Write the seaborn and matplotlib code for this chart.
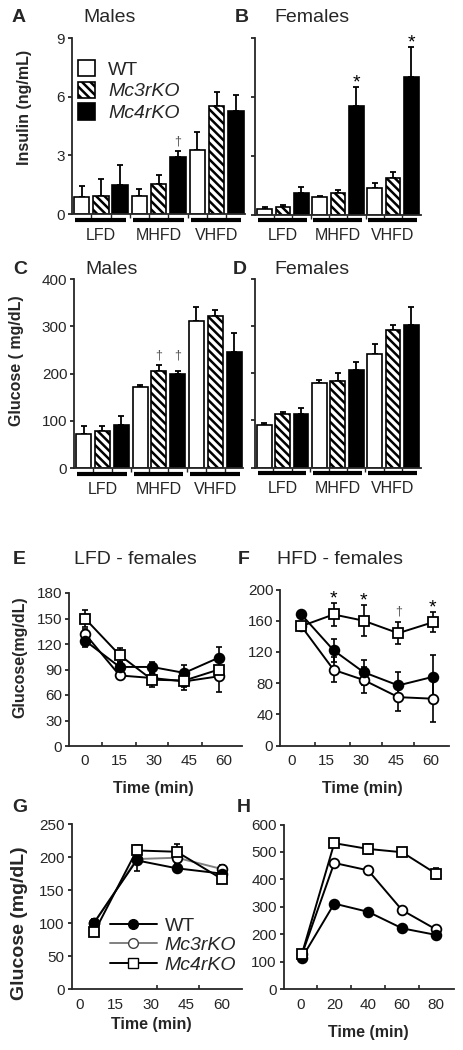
import numpy as np
import pandas as pd
import seaborn as sns
import matplotlib.pyplot as plt
from matplotlib.patches import Patch
from matplotlib.lines import Line2D

diets = ["LFD", "MHFD", "VHFD"]
genotypes = ["WT", "Mc3rKO", "Mc4rKO"]

# A - insulin, males (ng/mL), one list per genotype across diets
ins_m_wt = [0.87, 0.93, 3.28]
ins_m_mc3 = [0.93, 1.53, 5.54]
ins_m_mc4 = [1.47, 2.90, 5.30]
ins_m_wt_err = [0.57, 0.34, 0.90]
ins_m_mc3_err = [0.87, 0.46, 0.70]
ins_m_mc4_err = [1.03, 0.34, 0.80]

# B - insulin, females
ins_f_wt = [0.28, 0.87, 1.35]
ins_f_mc3 = [0.38, 1.09, 1.86]
ins_f_mc4 = [1.09, 5.55, 7.04]
ins_f_wt_err = [0.08, 0.05, 0.28]
ins_f_mc3_err = [0.10, 0.17, 0.33]
ins_f_mc4_err = [0.34, 0.98, 1.53]

# C - glucose, males (mg/dL)
glu_m_wt = [73, 171, 312]
glu_m_mc3 = [78, 205, 321]
glu_m_mc4 = [92, 200, 245]
glu_m_wt_err = [15, 5, 29]
glu_m_mc3_err = [10, 12, 13]
glu_m_mc4_err = [17, 5, 40]

# D - glucose, females
glu_f_wt = [90, 179, 241]
glu_f_mc3 = [114, 184, 291]
glu_f_mc4 = [114, 207, 303]
glu_f_wt_err = [5, 6, 21]
glu_f_mc3_err = [3, 16, 11]
glu_f_mc4_err = [12, 17, 37]

# E - LFD females, glucose tolerance
e_time = [0, 15, 29, 43, 58]
e_wt = [124, 93, 93, 86, 104]
e_mc3 = [132, 83, 80, 76, 82]
e_mc4 = [150, 107, 78, 77, 90]
e_wt_err = [8, 6, 6, 9, 12]
e_mc3_err = [6, 4, 6, 10, 19]
e_mc4_err = [10, 8, 8, 8, 10]

# F - HFD females
f_time = [4, 18, 31, 46, 61]
f_wt = [168, 122, 94, 77, 88]
f_mc3 = [153, 97, 84, 62, 60]
f_mc4 = [153, 168, 160, 144, 158]
f_wt_err = [5, 15, 16, 17, 28]
f_mc3_err = [5, 16, 17, 18, 30]
f_mc4_err = [5, 15, 20, 14, 13]

# G
g_time = [6, 24, 41, 60]
g_wt = [101, 195, 183, 175]
g_mc3 = [100, 197, 199, 182]
g_mc4 = [86, 210, 208, 167]
g_wt_err = [6, 16, 6, 6]
g_mc3_err = [5, 8, 8, 6]
g_mc4_err = [5, 8, 12, 6]

# H
h_time = [1, 20, 40, 60, 80]
h_wt = [115, 312, 282, 222, 198]
h_mc3 = [128, 460, 433, 288, 218]
h_mc4 = [130, 532, 511, 499, 421]
h_wt_err = [12, 8, 8, 8, 8]
h_mc3_err = [8, 8, 8, 10, 10]
h_mc4_err = [10, 10, 18, 14, 20]

sns.set_style("ticks")
plt.rcParams["font.family"] = ["Liberation Sans", "DejaVu Sans"]
plt.rcParams["axes.linewidth"] = 1.3
plt.rcParams["hatch.linewidth"] = 1.8

W, H = 464, 1050
fig = plt.figure(figsize=(W / 100, H / 100), dpi=100)


def add_ax(left, top, right, bottom):
    return fig.add_axes([left / W, 1 - bottom / H, (right - left) / W, (bottom - top) / H])


def ftext(x, y, s, **kw):
    kw.setdefault("va", "center")
    fig.text(x / W, 1 - y / H, s, **kw)


bar_colors = {"WT": "white", "Mc3rKO": "white", "Mc4rKO": "black"}


def bar_panel(ax, vals, errs, ylim, yticks, labels=True):
    df = pd.DataFrame([(d, g, v) for g, vs in zip(genotypes, vals) for d, v in zip(diets, vs)],
                      columns=["diet", "genotype", "value"])
    sns.barplot(data=df, x="diet", y="value", hue="genotype", order=diets, hue_order=genotypes,
                palette=bar_colors, edgecolor="black", linewidth=1.2, width=1.0, gap=0.2,
                errorbar=None, legend=False, ax=ax)
    bars = list(ax.containers)
    for i, cont in enumerate(bars):
        xs = [p.get_x() + p.get_width() / 2 for p in cont]
        hs = [p.get_height() for p in cont]
        if i == 1:
            for p in cont:
                p.set_hatch("\\\\\\\\")
        ax.errorbar(xs, hs, yerr=[np.zeros(len(hs)), errs[i]], fmt="none", ecolor="black",
                    elinewidth=1.3, capsize=2.5, capthick=1.3, zorder=0.9)
    ax.set_xlim(-0.5, 2.5)
    ax.set_ylim(*ylim)
    ax.set_yticks(yticks)
    ax.set_xticks([0, 1, 2], diets)
    ax.set_xticks(np.arange(1, 9) / 3 - 0.5, minor=True)
    ax.tick_params(axis="x", which="major", length=0, pad=10, labelsize=11.5)
    ax.tick_params(axis="x", which="minor", length=3, width=1, direction="out")
    ax.tick_params(axis="y", direction="out", length=3, width=1.3, pad=2, labelsize=11,
                   labelleft=labels)
    ax.set_xlabel("")
    ax.set_ylabel("")
    sns.despine(ax=ax)
    yoff = -5.5 / ax.bbox.height
    for i in range(3):
        ax.plot([i - 0.45, i + 0.43], [yoff, yoff], transform=ax.get_xaxis_transform(),
                color="black", lw=3, clip_on=False, solid_capstyle="butt")
    return bars


def mark(ax, x, y, s, dy, size, color="black"):
    ax.annotate(s, (x, y), xytext=(0, dy), textcoords="offset points", ha="center",
                va="center", fontsize=size, color=color)


def bar_x(bars, g, d):
    p = bars[g][d]
    return p.get_x() + p.get_width() / 2


styles = [("o", "black"), ("o", "white"), ("s", "white")]
zorders = [4, 3, 5]


def line_panel(ax, t, vals, errs, ylim, yticks, xlim, xticks, minor, colors=("black",) * 3):
    for (m, fc), v, e, z, c in zip(styles, vals, errs, zorders, colors):
        ax.errorbar(t, v, yerr=e, fmt="none", ecolor="black", elinewidth=1.2, capsize=2.5,
                    capthick=1.2, zorder=2)
        sns.lineplot(x=t, y=v, ax=ax, color=c, lw=1.4, marker=m, ms=7, mfc=fc, mec="black",
                     mew=1.3, errorbar=None, zorder=z)
    ax.set_xlim(*xlim)
    ax.set_ylim(*ylim)
    ax.set_yticks(yticks)
    ax.set_xticks(xticks)
    ax.set_xticks(minor, minor=True)
    ax.tick_params(axis="x", which="major", length=0, pad=6, labelsize=11)
    ax.tick_params(axis="x", which="minor", length=3, width=1.2, direction="in")
    ax.tick_params(axis="y", direction="out", length=3, width=1.3, pad=2, labelsize=11)
    sns.despine(ax=ax)


# ---- A / B insulin
axA = add_ax(72, 38.3, 245.5, 214)
barsA = bar_panel(axA, [ins_m_wt, ins_m_mc3, ins_m_mc4],
                  [ins_m_wt_err, ins_m_mc3_err, ins_m_mc4_err], (0, 9), [0, 3, 6, 9])
axB = add_ax(255.5, 38.3, 420.6, 214.5)
barsB = bar_panel(axB, [ins_f_wt, ins_f_mc3, ins_f_mc4],
                  [ins_f_wt_err, ins_f_mc3_err, ins_f_mc4_err], (0, 9), [0, 3, 6, 9],
                  labels=False)

handles = [Patch(facecolor="white", edgecolor="black", lw=1.2),
           Patch(facecolor="white", edgecolor="black", lw=1.2, hatch="\\\\\\\\"),
           Patch(facecolor="black", edgecolor="black", lw=1.2)]
leg = axA.legend(handles, genotypes, loc="upper left", bbox_to_anchor=(78 / W, 1 - 60 / H),
                 bbox_transform=fig.transFigure, frameon=False, borderpad=0, borderaxespad=0,
                 handlelength=0.9, handleheight=0.9, handletextpad=0.65, labelspacing=0.15,
                 fontsize=14)
for t in leg.get_texts()[1:]:
    t.set_style("italic")

mark(axA, bar_x(barsA, 2, 1), ins_m_mc4[1] + ins_m_mc4_err[1], "\u2020", 7, 9, "#555555")
for j in (1, 2):
    mark(axB, bar_x(barsB, 2, j), ins_f_mc4[j] + ins_f_mc4_err[j], "*", 3, 14)

# ---- C / D glucose
axC = add_ax(74.3, 279, 243.5, 468)
barsC = bar_panel(axC, [glu_m_wt, glu_m_mc3, glu_m_mc4],
                  [glu_m_wt_err, glu_m_mc3_err, glu_m_mc4_err], (0, 400), [0, 100, 200, 300, 400])
axD = add_ax(255, 279, 420.6, 467.5)
bar_panel(axD, [glu_f_wt, glu_f_mc3, glu_f_mc4], [glu_f_wt_err, glu_f_mc3_err, glu_f_mc4_err],
          (0, 400), [0, 100, 200, 300, 400], labels=False)
for i, v, e, dy in [(1, glu_m_mc3, glu_m_mc3_err, 7), (2, glu_m_mc4, glu_m_mc4_err, 11)]:
    mark(axC, bar_x(barsC, i, 1), v[1] + e[1], "\u2020", dy, 9, "#555555")

# ---- E / F
axE = add_ax(69.3, 593, 242, 746)
line_panel(axE, e_time, [e_wt, e_mc3, e_mc4], [e_wt_err, e_mc3_err, e_mc4_err],
           (0, 180), range(0, 181, 30), (-6.8, 68), [0, 15, 30, 45, 60], [7.5, 22, 36, 50.5])
axF = add_ax(280.3, 589.5, 449, 745.5)
line_panel(axF, f_time, [f_wt, f_mc3, f_mc4], [f_wt_err, f_mc3_err, f_mc4_err],
           (0, 200), range(0, 201, 40), (-5.1, 68), [0, 15, 30, 45, 60], [10, 25, 39, 53])
for k, s, dy, size, col in [(1, "*", 3, 14, "black"), (2, "*", 3, 14, "black"),
                            (3, "\u2020", 8, 9, "#555555"), (4, "*", 3, 14, "black")]:
    mark(axF, f_time[k], f_mc4[k] + f_mc4_err[k], s, dy, size, col)

# ---- G / H
axG = add_ax(71.7, 824, 242, 989.3)
line_panel(axG, g_time, [g_wt, g_mc3, g_mc4], [g_wt_err, g_mc3_err, g_mc4_err],
           (0, 250), range(0, 251, 50), (-3.5, 68.6), [0, 15, 30, 45, 60], [15, 32.5, 50.5],
           colors=("black", "#808080", "black"))
axH = add_ax(283.7, 824.5, 453.7, 989.3)
line_panel(axH, h_time, [h_wt, h_mc3, h_mc4], [h_wt_err, h_mc3_err, h_mc4_err],
           (0, 600), range(0, 601, 100), (-9.8, 90.4), [0, 20, 40, 60, 80], [10, 30, 50, 70])

lhandles = [Line2D([], [], color="black", lw=1.4, marker="o", ms=7, mfc="black", mec="black"),
            Line2D([], [], color="#808080", lw=1.4, marker="o", ms=7, mfc="white", mec="#404040"),
            Line2D([], [], color="black", lw=1.4, marker="s", ms=7, mfc="white", mec="black")]
leg2 = axG.legend(lhandles, genotypes, loc="upper left", bbox_to_anchor=(110 / W, 1 - 917 / H),
                  bbox_transform=fig.transFigure, frameon=False, borderpad=0, borderaxespad=0,
                  handlelength=2.4, handletextpad=0.4, labelspacing=0.1, fontsize=14)
for t in leg2.get_texts()[1:]:
    t.set_style("italic")

# ---- panel letters, titles, axis labels
for x, y, s in [(12, 17.5, "A"), (235, 17.5, "B"), (13, 270, "C"), (233, 270, "D"),
                (13, 560, "E"), (238, 560, "F"), (12, 807, "G"), (237, 807, "H")]:
    ftext(x, y, s, fontsize=14, fontweight="bold")
for x, y, s in [(83, 17.5, "Males"), (274, 17.5, "Females"), (85, 270, "Males"),
                (274, 270, "Females"), (74, 560, "LFD - females"), (277, 560, "HFD - females")]:
    ftext(x, y, s, fontsize=14)

ftext(24.5, 107, "Insulin (ng/mL)", rotation=90, ha="center", fontsize=11.5, fontweight="bold")
ftext(16.7, 361, "Glucose ( mg/dL)", rotation=90, ha="center", fontsize=11.5, fontweight="bold")
ftext(20, 657, "Glucose(mg/dL)", rotation=90, ha="center", fontsize=11.5, fontweight="bold")
ftext(20, 923, "Glucose (mg/dL)", rotation=90, ha="center", fontsize=14, fontweight="bold")
for x, y in [(153, 788), (362.5, 788), (151, 1025), (368, 1033)]:
    ftext(x, y, "Time (min)", ha="center", fontsize=11.5, fontweight="bold")

fig.savefig("out.png", dpi=100)
